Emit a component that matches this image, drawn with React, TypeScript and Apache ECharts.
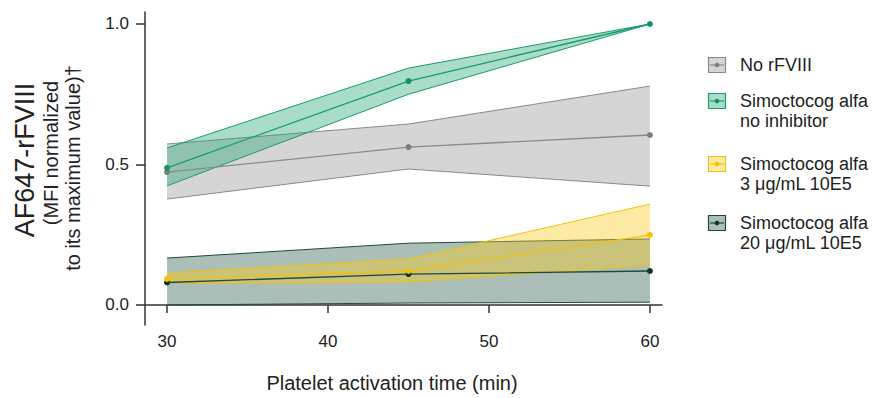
import React, { useEffect, useRef } from "react";
import * as echarts from "echarts";

// ---- data ----
const times = [30, 45, 60];
const xTickValues = [30, 40, 50, 60];
const yTickValues = [0, 0.5, 1.0];

const legendNames = [
  "No rFVIII",
  "Simoctocog alfa\nno inhibitor",
  "Simoctocog alfa\n3 μg/mL 10E5",
  "Simoctocog alfa\n20 μg/mL 10E5",
];

const noRFVIIIMean = [0.473, 0.562, 0.605];
const noRFVIIILower = [0.377, 0.484, 0.423];
const noRFVIIIUpper = [0.573, 0.644, 0.779];

const noInhMean = [0.488, 0.797, 1.0];
const noInhLower = [0.424, 0.75, 1.0];
const noInhUpper = [0.559, 0.843, 1.0];

const inh3Mean = [0.093, 0.121, 0.249];
const inh3Lower = [0.078, 0.082, 0.142];
const inh3Upper = [0.114, 0.164, 0.359];

const inh20Mean = [0.08, 0.11, 0.121];
const inh20Lower = [0.0, 0.007, 0.01];
const inh20Upper = [0.167, 0.22, 0.235];

const yTitle = "AF647-rFVIII";
const ySub1 = "(MFI normalized";
const ySub2 = "to its maximum value)†";
const xTitle = "Platelet activation time (min)";

// ---- styles ----
const FONT = "'Liberation Sans', Arial, Helvetica, sans-serif";
const TEXT = "#222222";
const AXIS = "#333333";

const groups = [
  { key: "g0", name: legendNames[0], mean: noRFVIIIMean, lower: noRFVIIILower, upper: noRFVIIIUpper, line: "#8a8a8a", dot: "#7d7d7d", fill: "rgba(150,150,150,0.40)" },
  { key: "g1", name: legendNames[1], mean: noInhMean, lower: noInhLower, upper: noInhUpper, line: "#1a9c6c", dot: "#12935f", fill: "rgba(30,165,110,0.38)" },
  { key: "g2", name: legendNames[2], mean: inh3Mean, lower: inh3Lower, upper: inh3Upper, line: "#f2c00f", dot: "#f5c000", fill: "rgba(250,205,30,0.40)" },
  { key: "g3", name: legendNames[3], mean: inh20Mean, lower: inh20Lower, upper: inh20Upper, line: "#1f4a3a", dot: "#0f3326", fill: "rgba(45,94,78,0.40)" },
];

// drawing order of bands/means: gray, green, dark green, yellow
const drawOrder = [0, 1, 3, 2];
const legendOrder = [0, 1, 2, 3];
const legendY = [65, 101, 164, 223];

export default function App() {
  const ref = useRef<HTMLDivElement>(null);

  useEffect(() => {
    if (!ref.current) return;
    const chart = echarts.init(ref.current, undefined, { renderer: "svg" });

    const series: any[] = [];
    drawOrder.forEach((gi, order) => {
      const g = groups[gi];
      const rows = times.map((t, i) => [t, g.lower[i], g.upper[i]]);
      series.push({
        type: "custom",
        name: g.key + "-band",
        data: rows,
        silent: true,
        clip: false,
        z: 2 + order * 0.01,
        encode: { x: 0, y: [1, 2] },
        renderItem: (params: any, api: any) => {
          if (params.dataIndex !== 0) return null;
          const upperPts = rows.map((r) => api.coord([r[0], r[2]]));
          const lowerPts = rows.map((r) => api.coord([r[0], r[1]]));
          const poly = upperPts.concat(lowerPts.slice().reverse());
          return {
            type: "group",
            children: [
              { type: "polygon", shape: { points: poly }, style: { fill: g.fill, stroke: "none" } },
              { type: "polyline", shape: { points: upperPts }, style: { stroke: g.line, lineWidth: 1, fill: "none" } },
              { type: "polyline", shape: { points: lowerPts }, style: { stroke: g.line, lineWidth: 1, fill: "none" } },
            ],
          };
        },
      });
    });
    drawOrder.forEach((gi) => {
      const g = groups[gi];
      series.push({
        type: "line",
        name: g.key + "-mean",
        data: times.map((t, i) => [t, g.mean[i]]),
        symbol: "circle",
        symbolSize: 6,
        showSymbol: true,
        silent: true,
        itemStyle: { color: g.dot, borderWidth: 0 },
        lineStyle: { color: g.line, width: 1.3 },
        z: 3,
      });
    });

    const graphic: any[] = [
      {
        type: "text",
        x: 25,
        y: 160,
        rotation: Math.PI / 2,
        style: { text: yTitle, font: `27px ${FONT}`, fill: TEXT, textAlign: "center", textVerticalAlign: "middle" },
      },
      {
        type: "text",
        x: 51,
        y: 153,
        rotation: Math.PI / 2,
        style: { text: ySub1, font: `20px ${FONT}`, fill: TEXT, textAlign: "center", textVerticalAlign: "middle" },
      },
      {
        type: "text",
        x: 73,
        y: 168,
        rotation: Math.PI / 2,
        style: { text: ySub2, font: `20px ${FONT}`, fill: TEXT, textAlign: "center", textVerticalAlign: "middle" },
      },
      {
        type: "text",
        x: 392,
        y: 383,
        style: { text: xTitle, font: `20px ${FONT}`, fill: TEXT, textAlign: "center", textVerticalAlign: "middle" },
      },
    ];

    legendOrder.forEach((gi, k) => {
      const g = groups[gi];
      const cy = legendY[k];
      graphic.push({
        type: "rect",
        shape: { x: 708.5, y: cy - 7.5, width: 17, height: 15 },
        style: { fill: g.fill, stroke: g.line, lineWidth: 1.2 },
      });
      graphic.push({
        type: "line",
        shape: { x1: 710, y1: cy, x2: 724, y2: cy },
        style: { stroke: g.line, lineWidth: 1.2 },
      });
      graphic.push({
        type: "circle",
        shape: { cx: 717, cy, r: 2.3 },
        style: { fill: g.dot },
      });
      graphic.push({
        type: "text",
        x: 740,
        y: cy - 10,
        style: {
          text: g.name,
          font: `18px ${FONT}`,
          fill: TEXT,
          lineHeight: 20,
          textAlign: "left",
          textVerticalAlign: "top",
        },
      });
    });

    chart.setOption({
      animation: false,
      backgroundColor: "#ffffff",
      grid: { left: 145, right: 213, top: 12, bottom: 73, containLabel: false },
      xAxis: {
        type: "value",
        min: 28.63,
        max: 60.75,
        splitLine: { show: false },
        axisLine: { show: true, lineStyle: { color: AXIS, width: 1.5 } },
        axisTick: { show: true, length: 8, customValues: xTickValues, lineStyle: { color: AXIS, width: 1.5 } },
        axisLabel: {
          customValues: xTickValues,
          margin: 8,
          color: TEXT,
          fontSize: 17,
          fontFamily: FONT,
        },
      },
      yAxis: {
        type: "value",
        min: -0.0712,
        max: 1.0427,
        splitLine: { show: false },
        axisLine: { show: true, lineStyle: { color: AXIS, width: 1.5 } },
        axisTick: { show: true, length: 9, customValues: yTickValues, lineStyle: { color: AXIS, width: 1.5 } },
        axisLabel: {
          customValues: yTickValues,
          margin: 16,
          color: TEXT,
          fontSize: 17,
          fontFamily: FONT,
          formatter: (v: number) => v.toFixed(1),
        },
      },
      series,
      graphic,
    });

    return () => chart.dispose();
  }, []);

  return (
    <div
      ref={ref}
      style={{ position: "fixed", left: 0, top: 0, width: 875, height: 398, background: "#fff" }}
    />
  );
}
